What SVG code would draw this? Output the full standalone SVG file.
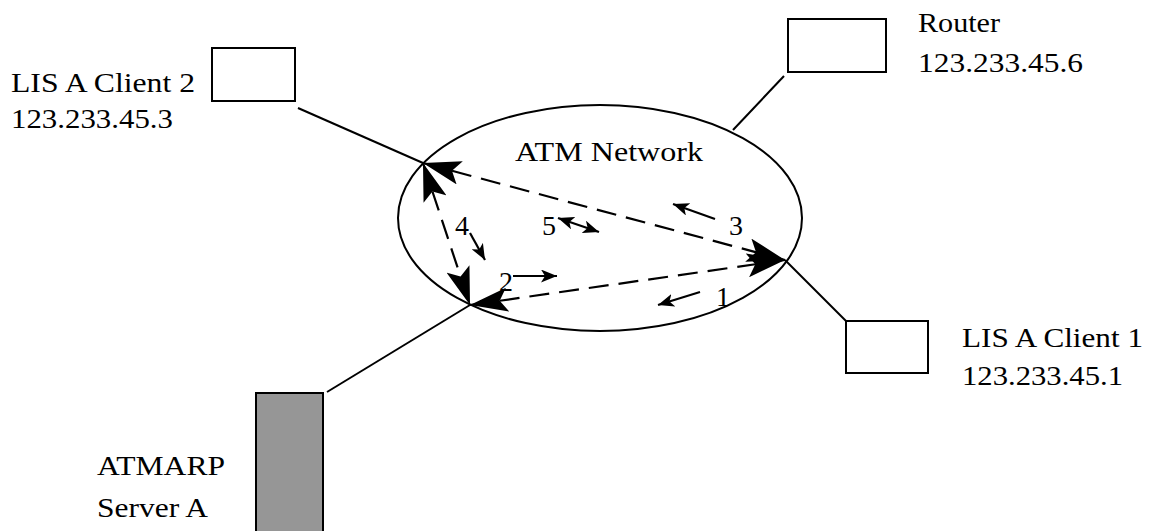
<svg xmlns="http://www.w3.org/2000/svg" width="1153" height="531" viewBox="0 0 1153 531">
  <style>
    .lbl { font-family: "Liberation Serif", "Times New Roman", serif; font-size: 28px; fill: #000; }
    .box { fill: #fff; stroke: #000; stroke-width: 2; }
    .link { stroke: #000; stroke-width: 2; fill: none; }
    .flow { stroke: #000; stroke-width: 2.2; fill: none; stroke-dasharray: 20 10; marker-start: url(#big); marker-end: url(#big); }
    .step { stroke: #000; stroke-width: 2.2; fill: none; marker-end: url(#small); }
  </style>
  <defs>
    <marker id="big" markerUnits="userSpaceOnUse" viewBox="0 0 38 24" refX="38" refY="12" markerWidth="38" markerHeight="24" orient="auto-start-reverse">
      <path d="M0,0 L38,12 L0,24 L8,12 z" fill="#000"/>
    </marker>
    <marker id="small" markerUnits="userSpaceOnUse" viewBox="0 0 16 13" refX="16" refY="6.5" markerWidth="16" markerHeight="13" orient="auto-start-reverse">
      <path d="M0,0 L16,6.5 L0,13 L4,6.5 z" fill="#000"/>
    </marker>
  </defs>

  <!-- network cloud -->
  <g id="atm-network">
    <ellipse cx="600" cy="218" rx="202" ry="113" fill="none" stroke="#000" stroke-width="2"/>
    <text class="lbl" x="515" y="161" textLength="188" lengthAdjust="spacingAndGlyphs">ATM Network</text>
  </g>

  <!-- access links -->
  <g id="links">
    <line class="link" x1="298" y1="108" x2="423" y2="163"/>
    <line class="link" x1="784" y1="76" x2="733" y2="130"/>
    <line class="link" x1="785" y1="260" x2="846" y2="321"/>
    <line class="link" x1="470" y1="305" x2="327" y2="392"/>
  </g>

  <g id="client2">
    <rect class="box" x="212" y="48" width="83" height="53"/>
    <text class="lbl" x="11" y="92" textLength="184" lengthAdjust="spacingAndGlyphs">LIS A Client 2</text>
    <text class="lbl" x="11" y="128" textLength="162" lengthAdjust="spacingAndGlyphs">123.233.45.3</text>
  </g>

  <g id="router">
    <rect class="box" x="788" y="19" width="98" height="53"/>
    <text class="lbl" x="918" y="32" textLength="82" lengthAdjust="spacingAndGlyphs">Router</text>
    <text class="lbl" x="918" y="72" textLength="165" lengthAdjust="spacingAndGlyphs">123.233.45.6</text>
  </g>

  <g id="client1">
    <rect class="box" x="846" y="321" width="82" height="52"/>
    <text class="lbl" x="962" y="347" textLength="181" lengthAdjust="spacingAndGlyphs">LIS A Client 1</text>
    <text class="lbl" x="962" y="385" textLength="161" lengthAdjust="spacingAndGlyphs">123.233.45.1</text>
  </g>

  <g id="server">
    <rect x="256" y="393" width="67" height="150" fill="#969696" stroke="#000" stroke-width="2"/>
    <text class="lbl" x="97" y="475" textLength="128" lengthAdjust="spacingAndGlyphs">ATMARP</text>
    <text class="lbl" x="97" y="517" textLength="111" lengthAdjust="spacingAndGlyphs">Server A</text>
  </g>

  <!-- message flows between endpoints -->
  <g id="connectors">
    <line class="flow" x1="423" y1="163" x2="785" y2="260"/>
    <line class="flow" x1="423" y1="163" x2="470" y2="305"/>
    <line class="flow" x1="470" y1="305" x2="785" y2="260"/>

    <line class="step" x1="700" y1="292" x2="658" y2="305"/>
    <line class="step" x1="513" y1="276" x2="557" y2="276"/>
    <line class="step" x1="715" y1="219" x2="673" y2="204"/>
    <line class="step" x1="470" y1="233" x2="485" y2="260"/>
    <line class="step" x1="558" y1="218" x2="599" y2="232" style="marker-start: url(#small)"/>

    <text class="lbl" x="716" y="306">1</text>
    <text class="lbl" x="499" y="291">2</text>
    <text class="lbl" x="729" y="235">3</text>
    <text class="lbl" x="455" y="235">4</text>
    <text class="lbl" x="542" y="235">5</text>
  </g>
</svg>
